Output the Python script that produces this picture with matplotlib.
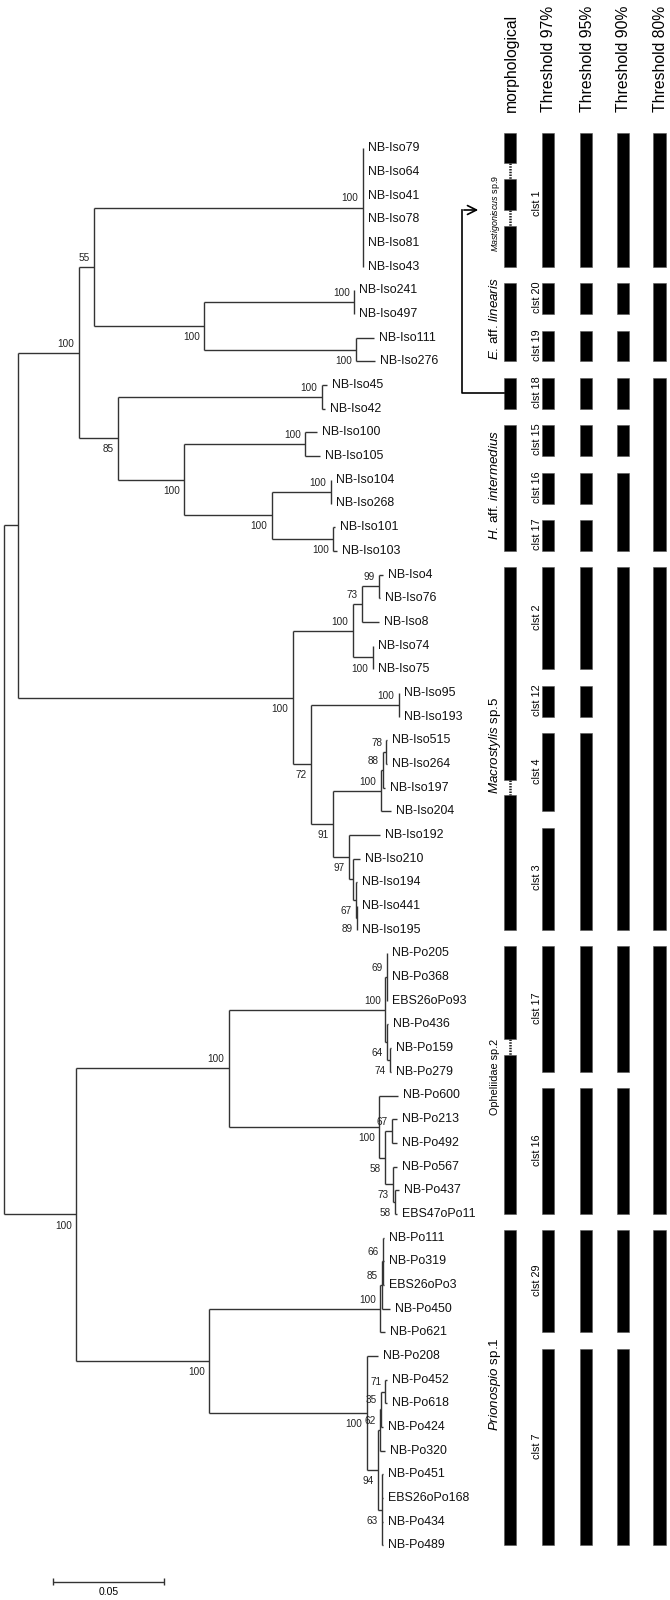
import numpy as np
import matplotlib.pyplot as plt

plt.rcParams['font.family'] = ['Liberation Sans', 'DejaVu Sans']
plt.rcParams['mathtext.fontset'] = 'custom'
plt.rcParams['mathtext.rm'] = 'Liberation Sans'
plt.rcParams['mathtext.it'] = 'Liberation Sans:italic'

# arvore em newick: comprimento dos ramos (subst./sitio) e bootstrap
tree_newick = """
((((
 (NB-Iso79:0,NB-Iso64:0,NB-Iso41:0,NB-Iso78:0,NB-Iso81:0,NB-Iso43:0)100:0.1212,
 ((NB-Iso241:0,NB-Iso497:0)100:0.0676,(NB-Iso111:0.0080,NB-Iso276:0.0086)100:0.0683)100:0.0498
)55:0.0068,
((NB-Iso45:0.0023,NB-Iso42:0.0015)100:0.0918,
 ((NB-Iso100:0.0050,NB-Iso105:0.0064)100:0.0545,
  ((NB-Iso104:0,NB-Iso268:0)100:0.0266,(NB-Iso101:0.0008,NB-Iso103:0.0020)100:0.0276)100:0.0393
 )100:0.0300
)85:0.0177
)100:0.0272,
((((NB-Iso4:0.0018,NB-Iso76:0.0003)99:0.0078,NB-Iso8:0.0078)73:0.0042,
   (NB-Iso74:0.0003,NB-Iso75:0.0003)100:0.0090)100:0.0270,
  ((NB-Iso95:0,NB-Iso193:0)100:0.0396,
   ((((NB-Iso515:0.0005,NB-Iso264:0.0005)78:0.0014,NB-Iso197:0.0007)88:0.0011,NB-Iso204:0.0045)100:0.0215,
    (NB-Iso192:0.0140,(NB-Iso210:0.0030,(NB-Iso194:0.0005,(NB-Iso441:0.0002,NB-Iso195:0.0002)89:0.0005)67:0.0012):0.0019)97:0.0071
   )91:0.0100
  )72:0.0082
)100:0.1236
):0.0064,
((((NB-Po205:0.0003,NB-Po368:0.0003,EBS26oPo93:0.0003)69:0.0008,
   (NB-Po436:0.0007,(NB-Po159:0.0005,NB-Po279:0.0005)74:0.0016)64:0.0007)100:0.0704,
  (NB-Po600:0.0086,
   ((NB-Po213:0.0023,NB-Po492:0.0023)67:0.0030,
    (NB-Po567:0.0018,(NB-Po437:0.0018,EBS47oPo11:0.0010)58:0.0010)73:0.0035)58:0.0026
  )100:0.0678
 )100:0.0688,
 ((((NB-Po111:0.0003,NB-Po319:0.0003,EBS26oPo3:0.0003)66:0.0007,NB-Po450:0.0037)85:0.0008,NB-Po621:0.0023)100:0.0769,
  (NB-Po208:0.0052,
   ((((NB-Po452:0.0005,NB-Po618:0.0005)71:0.0018,NB-Po424:0.0007)35:0.0007,NB-Po320:0.0023)62:0.0009,
    (NB-Po451:0.0005,EBS26oPo168:0.0005,NB-Po434:0.0005,NB-Po489:0.0005)63:0.0018
   )94:0.0051
  )100:0.0709
 )100:0.0600
)100:0.0324
);
"""

# especies morfologicas (linha inicial, linha final)
morph_names = [r"$\mathit{Mastigoniscus}$ sp.9", r"$\mathit{E}$. aff. $\mathit{linearis}$", "",
               r"$\mathit{H}$. aff. $\mathit{intermedius}$", r"$\mathit{Macrostylis}$ sp.5",
               "Opheliidae sp.2", r"$\mathit{Prionospio}$ sp.1"]
morph_rows = [(0, 5), (6, 9), (10, 11), (12, 17), (18, 33), (34, 45), (46, 59)]
morph_breaks = [0.97, 2.94, 26.99, 37.96]   # linhas onde a barra morfologica tem pontilhado

clst_names = ["clst 1", "clst 20", "clst 19", "clst 18", "clst 15", "clst 16", "clst 17",
              "clst 2", "clst 12", "clst 4", "clst 3", "clst 17", "clst 16", "clst 29", "clst 7"]
t97 = [(0, 5), (6, 7), (8, 9), (10, 11), (12, 13), (14, 15), (16, 17), (18, 22), (23, 24),
       (25, 28), (29, 33), (34, 39), (40, 45), (46, 50), (51, 59)]
t95 = [(0, 5), (6, 7), (8, 9), (10, 11), (12, 13), (14, 15), (16, 17), (18, 22), (23, 24),
       (25, 33), (34, 39), (40, 45), (46, 50), (51, 59)]
t90 = [(0, 5), (6, 7), (8, 9), (10, 11), (12, 13), (14, 17), (18, 33), (34, 39), (40, 45),
       (46, 50), (51, 59)]
t80 = [(0, 5), (6, 9), (10, 17), (18, 33), (34, 45), (46, 59)]
headers = ["morphological", "Threshold 97%", "Threshold 95%", "Threshold 90%", "Threshold 80%"]


def parse_newick(s):
    s = "".join(s.split())
    pos = 0

    def node():
        nonlocal pos
        kids = []
        if s[pos] == '(':
            pos += 1
            kids.append(node())
            while s[pos] == ',':
                pos += 1
                kids.append(node())
            pos += 1
        start = pos
        while s[pos] not in ':,);':
            pos += 1
        name = s[start:pos]
        bl = 0.0
        if s[pos] == ':':
            pos += 1
            start = pos
            while s[pos] not in ',);':
                pos += 1
            bl = float(s[start:pos])
        return {'name': name, 'bl': bl, 'kids': kids}
    return node()


root = parse_newick(tree_newick)
leaves = []


def place(n, x0):
    n['x'] = x0 + n['bl']
    if not n['kids']:
        n['y'] = len(leaves)
        leaves.append(n)
    else:
        for k in n['kids']:
            place(k, n['x'])
        n['y'] = (n['kids'][0]['y'] + n['kids'][-1]['y']) / 2


place(root, 0.0)

# figura: 670x1600 px; 0.05 = 111 px, linha = 23.68 px
W, H = 670, 1600
px_unit = 2220.0
x_root, y_row0, row_h = 4.0, 148.3, 23.68
fig = plt.figure(figsize=(W / 100, H / 100), dpi=100)
ax = fig.add_axes([0, 0, 1, 1])
ax.set_xlim(-x_root / px_unit, (W - x_root) / px_unit)
ylim = ((H - y_row0) / row_h, -y_row0 / row_h)
ax.set_ylim(*ylim)
ax.axis('off')

lc = '#333333'
vx, vy0, vy1, hy, hx0, hx1 = [], [], [], [], [], []


def draw(n, parent=None, first=False):
    if parent is not None:
        hy.append(n['y']); hx0.append(parent['x']); hx1.append(n['x'])
    if n['kids']:
        vx.append(n['x']); vy0.append(n['kids'][0]['y']); vy1.append(n['kids'][-1]['y'])
        if n['name'] and parent is not None:
            dy = 6.5 if first else -8.0
            ax.annotate(n['name'], (n['x'], n['y']), xytext=(-3, dy), textcoords='offset points',
                        ha='right', va='center', fontsize=7.2, color='#222222')
        for i, k in enumerate(n['kids']):
            draw(k, n, i == 0)
    else:
        ax.annotate(n['name'], (n['x'], n['y']), xytext=(3.6, 0), textcoords='offset points',
                    ha='left', va='center', fontsize=8.9, color='#111111')


draw(root)
ax.vlines(vx, vy0, vy1, color=lc, lw=1.0)
ax.hlines(hy, hx0, hx1, color=lc, lw=1.0)

# barra de escala
sb_x0 = (53.3 - x_root) / px_unit
sb_y = (1581.7 - y_row0) / row_h
ax.hlines(sb_y, sb_x0, sb_x0 + 0.05, color=lc, lw=1.0)
ax.vlines([sb_x0, sb_x0 + 0.05], sb_y - 0.15, sb_y + 0.15, color=lc, lw=1.0)
ax.text(sb_x0 + 0.025, sb_y + 0.45, "0.05", ha='center', va='center', fontsize=7.5)

# painel da direita (x em pixels)
ax2 = fig.add_axes([0, 0, 1, 1], facecolor='none')
ax2.set_xlim(0, W)
ax2.set_ylim(*ylim)
ax2.axis('off')

col_x = [510.2, 547.9, 586.2, 622.9, 659.5]
bar_w = 12.3
top_pad, bot_pad = 0.30, 0.0


def span(a, b):
    t = a - (0.63 if a == 0 else top_pad)
    return t, b + bot_pad


def bars(x, groups):
    for a, b in groups:
        t, e = span(a, b)
        ax2.bar(x, e - t, bottom=t, width=bar_w, color='black', edgecolor='#555555', linewidth=0.4)


bars(col_x[1], t97)
bars(col_x[2], t95)
bars(col_x[3], t90)
bars(col_x[4], t80)

# coluna morfologica com quebras pontilhadas
for (a, b) in morph_rows:
    t, e = span(a, b)
    segs = [t]
    for br in morph_breaks:
        if a <= br <= b:
            segs += [br - 0.33, br + 0.33]
    segs.append(e)
    for i in range(0, len(segs), 2):
        ax2.bar(col_x[0], segs[i + 1] - segs[i], bottom=segs[i], width=bar_w,
                color='black', edgecolor='#555555', linewidth=0.4)
    for i in range(1, len(segs) - 1, 2):
        ax2.vlines(col_x[0], segs[i], segs[i + 1], color='#222222', lw=1.8, linestyles=(0, (0.6, 0.5)))

morph_fs = [6.4, 9.6, 9.6, 9.6, 9.6, 7.8, 9.6]
for name, (a, b), fs in zip(morph_names, morph_rows, morph_fs):
    if name:
        yc = 2.76 if a == 0 else (a + b) / 2 - 0.3
        ax2.text(495, yc, name, rotation=90, ha='center', va='center', fontsize=fs)

for name, (a, b) in zip(clst_names, t97):
    ax2.text(536.7, (a + b) / 2 - 0.2, name, rotation=90, ha='center', va='center', fontsize=7.8)

for x, h in zip(col_x, headers):
    ax2.text(x + 1, (111.7 - y_row0) / row_h, h, rotation=90, ha='center', va='bottom', fontsize=11.3)

# seta: clst 18 identificado morfologicamente como Mastigoniscus
ya, yb = (210.0 - y_row0) / row_h, (393.3 - y_row0) / row_h
ax2.plot([col_x[0] - bar_w / 2, 461.7, 461.7], [yb, yb, ya], color='black', lw=1.2)
ax2.annotate("", xy=(481, ya), xytext=(461.1, ya),
             arrowprops=dict(arrowstyle='->', color='black', lw=1.2, mutation_scale=16))

fig.savefig('out.png', dpi=100)
